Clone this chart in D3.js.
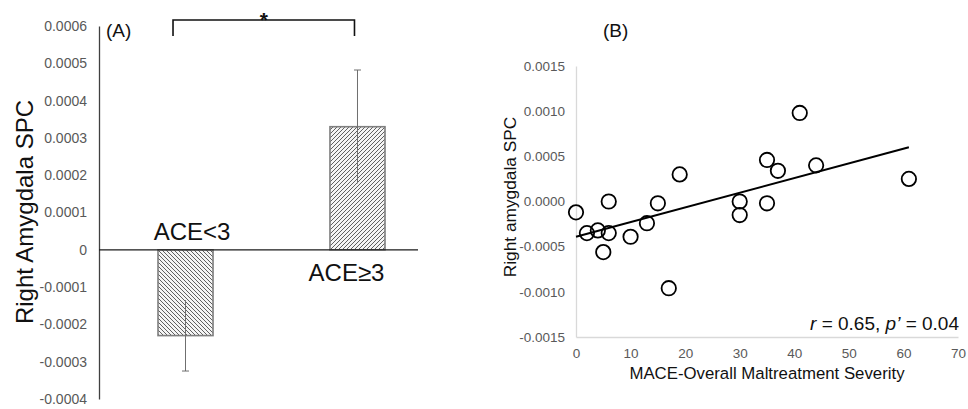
<!DOCTYPE html>
<html><head><meta charset="utf-8">
<script src="https://cdn.jsdelivr.net/npm/d3@7"></script>
<style>
body{margin:0;background:#fff;}
svg{display:block;font-family:"Liberation Sans",Arial,sans-serif;}
</style></head>
<body><svg id="c" width="968" height="409"></svg>
<script>
// ---- Panel A data ----
const groups = ["ACE<3", "ACE≥3"];
const groupMeans = [-0.00023, 0.00033];
const groupErrors = [0.000095, 0.000152];
const aTicks = [0.0006,0.0005,0.0004,0.0003,0.0002,0.0001,0,-0.0001,-0.0002,-0.0003,-0.0004];
const aTickLabels = ["0.0006","0.0005","0.0004","0.0003","0.0002","0.0001","0","-0.0001","-0.0002","-0.0003","-0.0004"];

// ---- Panel B data ----
const maceScores = [0, 2, 4, 5, 6, 6, 10, 13, 15, 17, 19, 30, 30, 35, 35, 37, 41, 44, 61];
const spcValues = [-0.00012, -0.00035, -0.00032, -0.00056, 0.0000, -0.00035, -0.00039, -0.00024, -0.00002, -0.00096, 0.00030, 0.0000, -0.00015, -0.00002, 0.00046, 0.00034, 0.00098, 0.00040, 0.00025];
const trendX = [0, 61];
const trendY = [-0.00039, 0.00060];
const bYTicks = [0.0015, 0.0010, 0.0005, 0.0000, -0.0005, -0.0010, -0.0015];
const bYTickLabels = ["0.0015","0.0010","0.0005","0.0000","-0.0005","-0.0010","-0.0015"];
const bXTicks = [0,10,20,30,40,50,60,70];

const svg = d3.select("#c");
const grayText = "#595959";

// ================= Panel A =================
const yA = d3.scaleLinear().domain([-0.0004, 0.0006]).range([399, 26]);
const xA = d3.scaleBand().domain(groups).range([158, 385]).paddingInner(0.68).paddingOuter(0);
const axisX = 99;

const defs = svg.append("defs");
function hatch(id, dir){
  const p = defs.append("pattern").attr("id", id).attr("patternUnits","userSpaceOnUse")
    .attr("width", 4).attr("height", 4);
  p.append("rect").attr("width",4).attr("height",4).attr("fill","#f4f4f4");
  if(dir === "back"){
    p.append("path").attr("d","M-1,-1 L5,5 M-1,3 L1,5 M3,-1 L5,1").attr("stroke","#606060").attr("stroke-width",1);
  } else {
    p.append("path").attr("d","M-1,5 L5,-1 M-1,1 L1,-1 M3,5 L5,3").attr("stroke","#606060").attr("stroke-width",1);
  }
}
hatch("hBack","back");
hatch("hFwd","fwd");

const gA = svg.append("g");
const axA = d3.axisLeft(yA).tickValues(aTicks).tickFormat((d,i)=>aTickLabels[i]).tickSize(0).tickPadding(12);
gA.append("g").attr("transform",`translate(${axisX},0)`).call(axA)
  .call(g=>g.select(".domain").attr("stroke","#404040").attr("stroke-width",1.3))
  .call(g=>g.selectAll("text").attr("fill",grayText).attr("font-size",14).attr("font-family","Liberation Sans,Arial,sans-serif"));

// bars
gA.selectAll("rect.bar").data(groups).join("rect")
  .attr("class","bar")
  .attr("x", d=>xA(d))
  .attr("width", xA.bandwidth())
  .attr("y", (d,i)=>yA(Math.max(0, groupMeans[i])))
  .attr("height", (d,i)=>Math.abs(yA(groupMeans[i]) - yA(0)))
  .attr("fill", (d,i)=> i===0 ? "url(#hBack)" : "url(#hFwd)")
  .attr("stroke","#7f7f7f").attr("stroke-width",1.6);

// zero line
gA.append("line").attr("x1",axisX).attr("x2",418).attr("y1",yA(0)).attr("y2",yA(0))
  .attr("stroke","#1a1a1a").attr("stroke-width",1.3);

// error bars
groups.forEach((g,i)=>{
  const cx = xA(g) + xA.bandwidth()/2;
  const lo = groupMeans[i]-groupErrors[i], hi = groupMeans[i]+groupErrors[i];
  gA.append("line").attr("x1",cx).attr("x2",cx).attr("y1",yA(lo)).attr("y2",yA(hi))
    .attr("stroke","#6f6f6f").attr("stroke-width",1);
  const capY = i===0 ? yA(lo) : yA(hi);
  gA.append("line").attr("x1",cx-3.5).attr("x2",cx+3.5).attr("y1",capY).attr("y2",capY)
    .attr("stroke","#6f6f6f").attr("stroke-width",1);
});

// category labels
gA.append("text").attr("x", xA(groups[0])+xA.bandwidth()/2+6.5).attr("y", yA(0)-10)
  .attr("text-anchor","middle").attr("font-size",24).attr("fill","#111").text(groups[0]);
gA.append("text").attr("x", xA(groups[1])+xA.bandwidth()/2-11).attr("y", yA(0)+31)
  .attr("text-anchor","middle").attr("font-size",24).attr("fill","#111").text(groups[1]);

gA.append("text").attr("transform","translate(33,212) rotate(-90)")
  .attr("text-anchor","middle").attr("font-size",24).attr("fill","#111").text("Right Amygdala SPC");

gA.append("text").attr("x",106).attr("y",37).attr("font-size",19).attr("fill","#111").text("(A)");

// significance bracket
const bx1 = xA(groups[0])+xA.bandwidth()/2 - 12.5, bx2 = xA(groups[1])+xA.bandwidth()/2 - 3;
gA.append("path").attr("d",`M${bx1},36 V20 H${bx2} V36`).attr("fill","none")
  .attr("stroke","#111").attr("stroke-width",1.6);
gA.append("text").attr("x",(bx1+bx2)/2).attr("y",27).attr("text-anchor","middle")
  .attr("font-size",21).attr("font-weight","bold").attr("fill","#111").text("*");

// ================= Panel B =================
const xB = d3.scaleLinear().domain([0,70]).range([576, 958]);
const yB = d3.scaleLinear().domain([-0.0015, 0.0015]).range([337, 66]);
const gB = svg.append("g");

gB.append("g").attr("transform","translate(576,0)")
  .call(d3.axisLeft(yB).tickValues(bYTicks).tickFormat((d,i)=>bYTickLabels[i]).tickSize(0).tickPadding(11))
  .call(g=>g.select(".domain").attr("stroke","#d9d9d9").attr("stroke-width",1.3))
  .call(g=>g.selectAll("text").attr("fill",grayText).attr("font-size",13.5).attr("font-family","Liberation Sans,Arial,sans-serif"));

gB.append("g").attr("transform","translate(0,337)")
  .call(d3.axisBottom(xB).tickValues(bXTicks).tickSize(0).tickPadding(11))
  .call(g=>g.select(".domain").attr("stroke","#d9d9d9").attr("stroke-width",1.3))
  .call(g=>g.selectAll("text").attr("fill",grayText).attr("font-size",13.5).attr("font-family","Liberation Sans,Arial,sans-serif"));

gB.append("line").attr("x1",xB(trendX[0])).attr("y1",yB(trendY[0]))
  .attr("x2",xB(trendX[1])).attr("y2",yB(trendY[1]))
  .attr("stroke","#000").attr("stroke-width",2);

gB.selectAll("circle").data(maceScores).join("circle")
  .attr("cx",d=>xB(d)).attr("cy",(d,i)=>yB(spcValues[i])).attr("r",7.2)
  .attr("fill","none").attr("stroke","#000").attr("stroke-width",1.8);

gB.append("text").attr("transform","translate(516,197) rotate(-90)")
  .attr("text-anchor","middle").attr("font-size",17.3).attr("fill","#111").text("Right amygdala SPC");
gB.append("text").attr("x",767).attr("y",379).attr("text-anchor","middle")
  .attr("font-size",16.8).attr("fill","#111").text("MACE-Overall Maltreatment Severity");
gB.append("text").attr("x",603).attr("y",37).attr("font-size",19).attr("fill","#111").text("(B)");

const ann = gB.append("text").attr("x",959).attr("y",330).attr("text-anchor","end")
  .attr("font-size",19).attr("fill","#111");
ann.append("tspan").attr("font-style","italic").text("r");
ann.append("tspan").text(" = 0.65, ");
ann.append("tspan").attr("font-style","italic").text("p’");
ann.append("tspan").text(" = 0.04");
</script></body></html>
